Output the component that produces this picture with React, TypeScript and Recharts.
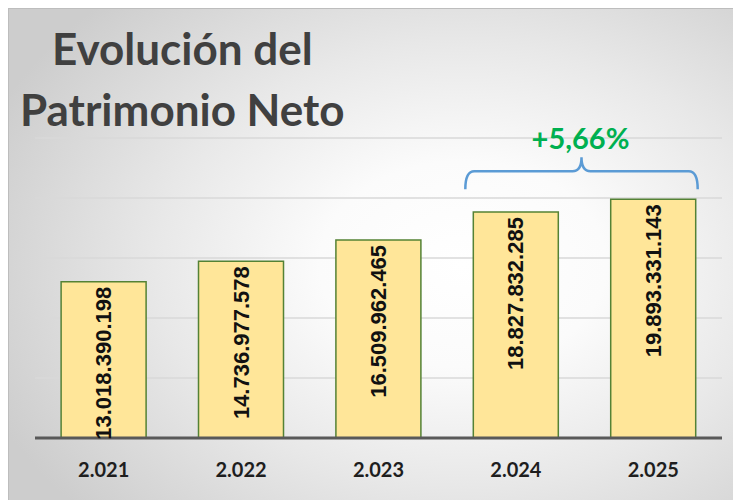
import React from 'react';
import { BarChart, Bar, XAxis, YAxis, CartesianGrid, LabelList } from 'recharts';

const years = ['2.021', '2.022', '2.023', '2.024', '2.025'];
const patrimonio = [13018390198, 14736977578, 16509962465, 18827832285, 19893331143];
const yTicks = [0, 5e9, 10e9, 15e9, 20e9, 25e9];
const growthLabel = '+5,66%';

const data = years.map((year, i) => ({ year, value: patrimonio[i] }));

const CHART_W = 732;
const CHART_H = 491;
const MARGIN = { top: 129, right: 19, bottom: 22, left: 26 };
const STEP = (CHART_W - MARGIN.left - MARGIN.right) / years.length;

const fmt = (v: number) => v.toLocaleString('de-DE');

function ValueLabel(props: any) {
  const { x, y, width, value, index } = props;
  const cx = x + width / 2;
  const ty = y + 5;
  const text = (
    <text
      x={cx}
      y={ty}
      transform={`rotate(-90 ${cx} ${ty})`}
      textAnchor="end"
      dominantBaseline="central"
      fontFamily="'Liberation Sans', Arial, sans-serif"
      fontWeight={700}
      fontSize={22}
      fill="#111"
    >
      {fmt(value)}
    </text>
  );
  if (index !== years.length - 1) return text;

  // brace spanning the last two bars with the growth label
  const L = x - STEP - 8;
  const R = x + width + 2;
  const C = (L + R) / 2;
  const yE = y - 10;
  const yM = y - 28;
  const yT = y - 42;
  const r = 9;
  const d = `M ${L} ${yE} Q ${L} ${yM} ${L + r} ${yM} L ${C - r} ${yM} Q ${C} ${yM} ${C} ${yT} Q ${C} ${yM} ${C + r} ${yM} L ${R - r} ${yM} Q ${R} ${yM} ${R} ${yE}`;
  return (
    <g>
      {text}
      <path d={d} fill="none" stroke="#5B9BD5" strokeWidth={2.5} />
      <text
        x={C - 1}
        y={y - 50}
        textAnchor="middle"
        fontFamily="Lato, sans-serif"
        fontWeight={700}
        fontSize={29}
        fill="#00B050"
      >
        {growthLabel}
      </text>
    </g>
  );
}

export default function App() {
  return (
    <div
      style={{
        position: 'relative',
        width: CHART_W,
        height: CHART_H,
        borderLeft: '1px solid #bdbdbd',
        borderTop: '1px solid #bdbdbd',
        background:
          'radial-gradient(ellipse 70% 75% at 62% 52%, #ffffff 0%, #fbfbfb 28%, #e8e8e8 60%, #cdcdcd 100%)',
        overflow: 'hidden',
      }}
    >
      <svg
        width={CHART_W}
        height={140}
        style={{ position: 'absolute', left: 0, top: 0 }}
      >
        <text x={43} y={56} fontFamily="Lato, sans-serif" fontWeight={700} fontSize={44} fill="#404040">
          Evolución del
        </text>
        <text x={11} y={117} fontFamily="Lato, sans-serif" fontWeight={700} fontSize={44} fill="#404040">
          Patrimonio Neto
        </text>
      </svg>
      <BarChart
        width={CHART_W}
        height={CHART_H}
        data={data}
        margin={MARGIN}
        barCategoryGap="19%"
        style={{ position: 'absolute', left: 0, top: 0 }}
      >
        <CartesianGrid vertical={false} stroke="#d9d9d9" strokeWidth={1.5} />
        <XAxis
          dataKey="year"
          height={40}
          tickLine={false}
          tickSize={0}
          tickMargin={25}
          axisLine={{ stroke: '#595959', strokeWidth: 3 }}
          tick={{ fill: '#1e1e1e', fontSize: 20, fontWeight: 700, fontFamily: 'Lato, sans-serif' }}
        />
        <YAxis hide domain={[0, 25e9]} ticks={yTicks} />
        <Bar
          dataKey="value"
          fill="#FFE699"
          stroke="#548235"
          strokeWidth={1.5}
          isAnimationActive={false}
        >
          <LabelList dataKey="value" content={<ValueLabel />} />
        </Bar>
      </BarChart>
    </div>
  );
}
